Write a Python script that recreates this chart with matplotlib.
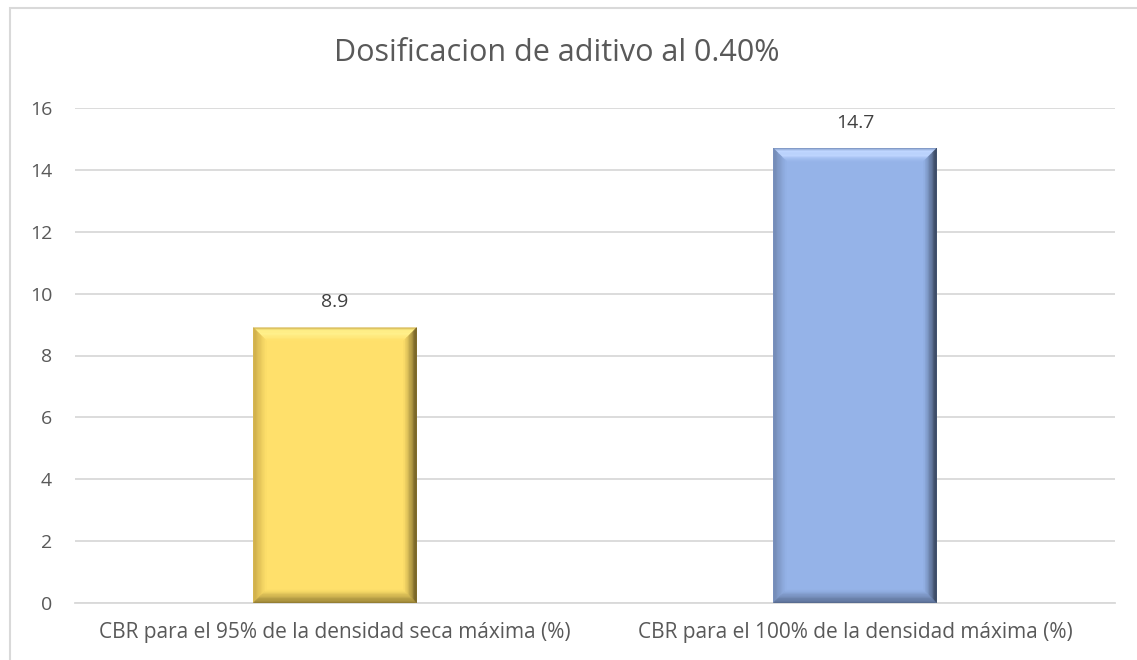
import matplotlib
matplotlib.use("Agg")
import matplotlib.pyplot as plt
from matplotlib.patches import Polygon, Rectangle
import numpy as np
from matplotlib.colors import to_rgb

categories = ["CBR para el 95% de la densidad seca máxima (%)",
              "CBR para el 100% de la densidad máxima (%)"]
values = [8.9, 14.7]
value_labels = ["8.9", "14.7"]
yticks = [0, 2, 4, 6, 8, 10, 12, 14, 16]
title = "Dosificacion de aditivo al 0.40%"

face_colors = ["#FFE06B", "#95B3E8"]
top_colors = ["#FFF08A", "#BFD6FF"]
left_colors = ["#C9A947", "#6F86B0"]
right_colors = ["#4A3B12", "#1F2838"]
bottom_colors = ["#8F7A30", "#55688C"]

plt.rcParams['font.family'] = ['Open Sans', 'DejaVu Sans']
W, H = 1137, 660
fig = plt.figure(figsize=(W / 100, H / 100), dpi=100)
fig.patch.set_facecolor("white")

# chart border (partially cropped)
fig.add_artist(Rectangle((10 / W, -0.1), 1.2, 1 - 8 / H + 0.1, transform=fig.transFigure,
                         fill=False, edgecolor="#D9D9D9", linewidth=1.5))

ax = fig.add_axes([75 / W, 57 / H, 1040 / W, 495 / H])
x = np.arange(len(categories))
bars = ax.bar(x, values, width=0.314, color=face_colors, zorder=2)
ax.set_xlim(-0.5, len(categories) - 0.5)
ax.set_ylim(0, 16)
ax.set_yticks(yticks)
ax.set_yticklabels([str(v) for v in yticks])
ax.set_xticks(x)
ax.set_xticklabels(categories)
ax.tick_params(axis='y', length=0, colors="#595959", labelsize=14, pad=16.5)
ax.tick_params(axis='x', length=0, colors="#595959", labelsize=15, pad=14)
ax.grid(axis='y', color="#D9D9D9", linewidth=1.3, zorder=0)
ax.set_axisbelow(True)
for s in ["top", "right", "left"]:
    ax.spines[s].set_visible(False)
ax.spines["bottom"].set_color("#D9D9D9")
ax.spines["bottom"].set_linewidth(1.3)

# bevel effect
bev_px = 13
inv = ax.transData.inverted()
x0d, y0d = inv.transform((0, 0))
x1d, y1d = inv.transform((bev_px, bev_px))
bx, by = x1d - x0d, y1d - y0d


def mix(c1, c2, t):
    a, b = np.array(to_rgb(c1)), np.array(to_rgb(c2))
    return tuple(a + (b - a) * t)


nstrip = 10
for i, b in enumerate(bars):
    L = b.get_x(); R = L + b.get_width(); B = 0; T = b.get_height()
    face = face_colors[i]
    for k in range(nstrip):
        t0, t1 = k / nstrip, (k + 1) / nstrip
        tc = (t0 + t1) / 2
        d0x, d1x = bx * t0, bx * t1
        d0y, d1y = by * t0, by * t1
        if tc < 0.2:
            ctop = mix(left_colors[i], top_colors[i], tc / 0.2)
        elif tc < 0.55:
            ctop = top_colors[i]
        else:
            ctop = mix(top_colors[i], face, (tc - 0.55) / 0.45)
        cl = mix(left_colors[i], face, tc)
        cr = mix(right_colors[i], face, tc ** 0.7)
        cb = mix(bottom_colors[i], face, tc)
        polys = [
            ([(L + d0x, T - d0y), (R - d0x, T - d0y), (R - d1x, T - d1y), (L + d1x, T - d1y)], ctop),
            ([(L + d0x, B + d0y), (L + d0x, T - d0y), (L + d1x, T - d1y), (L + d1x, B + d1y)], cl),
            ([(R - d0x, B + d0y), (R - d0x, T - d0y), (R - d1x, T - d1y), (R - d1x, B + d1y)], cr),
            ([(L + d0x, B + d0y), (R - d0x, B + d0y), (R - d1x, B + d1y), (L + d1x, B + d1y)], cb),
        ]
        for pts, c in polys:
            ax.add_patch(Polygon(pts, closed=True, facecolor=c, edgecolor=c, linewidth=0.3, zorder=3))
    ax.annotate(value_labels[i], (b.get_x() + b.get_width() / 2, T), xytext=(0, 12),
                textcoords="offset points", ha="center", va="bottom",
                fontsize=14, color="#404040")

fig.text(557 / W, 1 - 53 / H, title, ha="center", va="center", fontsize=22, color="#595959")

fig.savefig("out.png", dpi=100)
